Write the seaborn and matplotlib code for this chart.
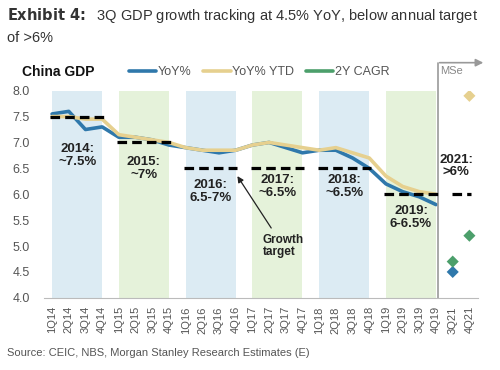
import matplotlib
matplotlib.use("Agg")
import matplotlib.pyplot as plt
import numpy as np
import pandas as pd
import seaborn as sns

# data
quarters = ['1Q14', '2Q14', '3Q14', '4Q14', '1Q15', '2Q15', '3Q15', '4Q15',
            '1Q16', '2Q16', '3Q16', '4Q16', '1Q17', '2Q17', '3Q17', '4Q17',
            '1Q18', '2Q18', '3Q18', '4Q18', '1Q19', '2Q19', '3Q19', '4Q19',
            '3Q21', '4Q21']
yoy = [7.55, 7.6, 7.25, 7.3, 7.1, 7.1, 7.05, 6.95, 6.9, 6.85, 6.8, 6.85,
       6.95, 7.0, 6.9, 6.8, 6.85, 6.85, 6.7, 6.5, 6.2, 6.05, 5.95, 5.8]
yoy_ytd = [7.5, 7.5, 7.45, 7.45, 7.15, 7.1, 7.05, 7.0, 6.9, 6.85, 6.85, 6.85,
           6.95, 7.0, 6.95, 6.9, 6.85, 6.9, 6.8, 6.7, 6.35, 6.15, 6.05, 6.0]
# MS estimates for 3Q21 / 4Q21
est_q = ['3Q21', '3Q21', '4Q21', '4Q21']
est_series = ['YoY%', '2Y CAGR', 'YoY% YTD', '2Y CAGR']
est_val = [4.5, 4.7, 7.9, 5.2]

years = ['2014', '2015', '2016', '2017', '2018', '2019']
targets = [7.5, 7.0, 6.5, 6.5, 6.5, 6.0]
target_labels = ['2014:\n~7.5%', '2015:\n~7%', '2016:\n6.5-7%', '2017:\n~6.5%',
                 '2018:\n~6.5%', '2019:\n6-6.5%']
label_y = [6.75, 6.5, 6.05, 6.15, 6.15, 5.55]
target_2021 = 6.0

blue = '#2f78ab'
beige = '#e6d08f'
green = '#4c9f6b'
band_colors = ['#dcebf3', '#e5f2da']
grey = '#555555'

pos = {q: i for i, q in enumerate(quarters)}
hist = pd.DataFrame({'x': list(range(24)) * 2,
                     'value': yoy + yoy_ytd,
                     'series': ['YoY%'] * 24 + ['YoY% YTD'] * 24})
est = pd.DataFrame({'x': [pos[q] for q in est_q], 'value': est_val,
                    'series': est_series})
pal = {'YoY%': blue, 'YoY% YTD': beige, '2Y CAGR': green}

sns.set_style("white")
plt.rcParams['font.family'] = ['Liberation Sans', 'DejaVu Sans']

fig = plt.figure(figsize=(5, 3.7), dpi=100)
ax = fig.add_axes([0.0875, 0.195, 0.868, 0.56])

# year bands
for k in range(6):
    ax.axvspan(4 * k, 4 * k + 3, ymin=0, ymax=1, color=band_colors[k % 2],
               lw=0, zorder=0)

# growth target dashes
for k in range(6):
    ax.plot([4 * k - 0.1, 4 * k + 3.1], [targets[k]] * 2, color='black',
            lw=2.3, ls=(0, (3, 1.6)), zorder=3)
    ax.text(4 * k + 1.5, label_y[k], target_labels[k], ha='center',
            va='center', fontsize=9.5, fontweight='bold', color='#222222',
            linespacing=1.05)
ax.plot([23.95, 25.1], [target_2021] * 2, color='black', lw=2.3,
        ls=(0, (3, 1.6)), zorder=3)
ax.text(24.2, 6.55, '2021:\n>6%', ha='center', va='center', fontsize=9.5,
        fontweight='bold', color='#222222', linespacing=1.05)

sns.lineplot(data=hist, x='x', y='value', hue='series', palette=pal,
             hue_order=['YoY%', 'YoY% YTD'], lw=2.6, ax=ax, legend=False,
             zorder=2)
sns.scatterplot(data=est, x='x', y='value', hue='series', palette=pal,
                marker='D', s=38, edgecolor='none', ax=ax, legend=False,
                zorder=4)

# growth target arrow
ax.annotate('Growth\ntarget', xy=(11.1, 6.35), xytext=(12.6, 5.0),
            fontsize=8.5, fontweight='bold', color='#222222', va='center',
            ha='left', linespacing=1.1,
            arrowprops=dict(arrowstyle='-|>', color='#222222', lw=0.9,
                            shrinkA=2, shrinkB=0, mutation_scale=9))

# MSe divider
ax.plot([23.1, 23.1], [4.0, 8.54], color='#999999', lw=1.2, clip_on=False)
ax.annotate('', xy=(26.0, 8.54), xytext=(23.05, 8.54),
            arrowprops=dict(arrowstyle='-|>', color='#999999', lw=1.2,
                            mutation_scale=11), annotation_clip=False)
ax.text(23.25, 8.38, 'MSe', fontsize=8, color='#888888', va='center')

ax.set_xlim(-0.5, 25.5)
ax.set_ylim(4.0, 8.0)
ax.set_yticks(np.arange(4.0, 8.01, 0.5))
ax.set_yticklabels([f'{v:.1f}' for v in np.arange(4.0, 8.01, 0.5)],
                   color=grey, fontsize=9)
ax.set_xticks(range(len(quarters)))
ax.set_xticklabels(quarters, rotation=90, fontsize=8, color=grey)
ax.tick_params(axis='x', length=3, color='#aaaaaa', pad=3)
ax.tick_params(axis='y', length=0, pad=10)
ax.set_xlabel('')
ax.set_ylabel('')
for s in ['top', 'right', 'left']:
    ax.spines[s].set_visible(False)
ax.spines['bottom'].set_color('#bbbbbb')

# legend row
handles = [plt.Line2D([], [], color=c, lw=2.6) for c in (blue, beige, green)]
fig.legend(handles, ['YoY%', 'YoY% YTD', '2Y CAGR'], loc='center left',
           bbox_to_anchor=(0.235, 0.805), ncol=3, frameon=False, fontsize=9,
           handlelength=2.2, handletextpad=0.15, columnspacing=0.9,
           labelcolor=grey)
fig.text(0.045, 0.805, 'China GDP', fontsize=10, fontweight='bold',
         color='#111111', va='center')

# title and source
fig.text(0.014, 0.958, r'$\bf{Exhibit\ 4\!:}$  3Q GDP growth tracking at 4.5% YoY, below annual target',
         fontsize=10.5, color='#333333', va='center')
fig.text(0.014, 0.897, 'of >6%', fontsize=10.5, color='#333333', va='center')
fig.text(0.014, 0.045, 'Source: CEIC, NBS, Morgan Stanley Research Estimates (E)',
         fontsize=8, color=grey, va='center')

fig.savefig('out.png', dpi=100, facecolor='white')
